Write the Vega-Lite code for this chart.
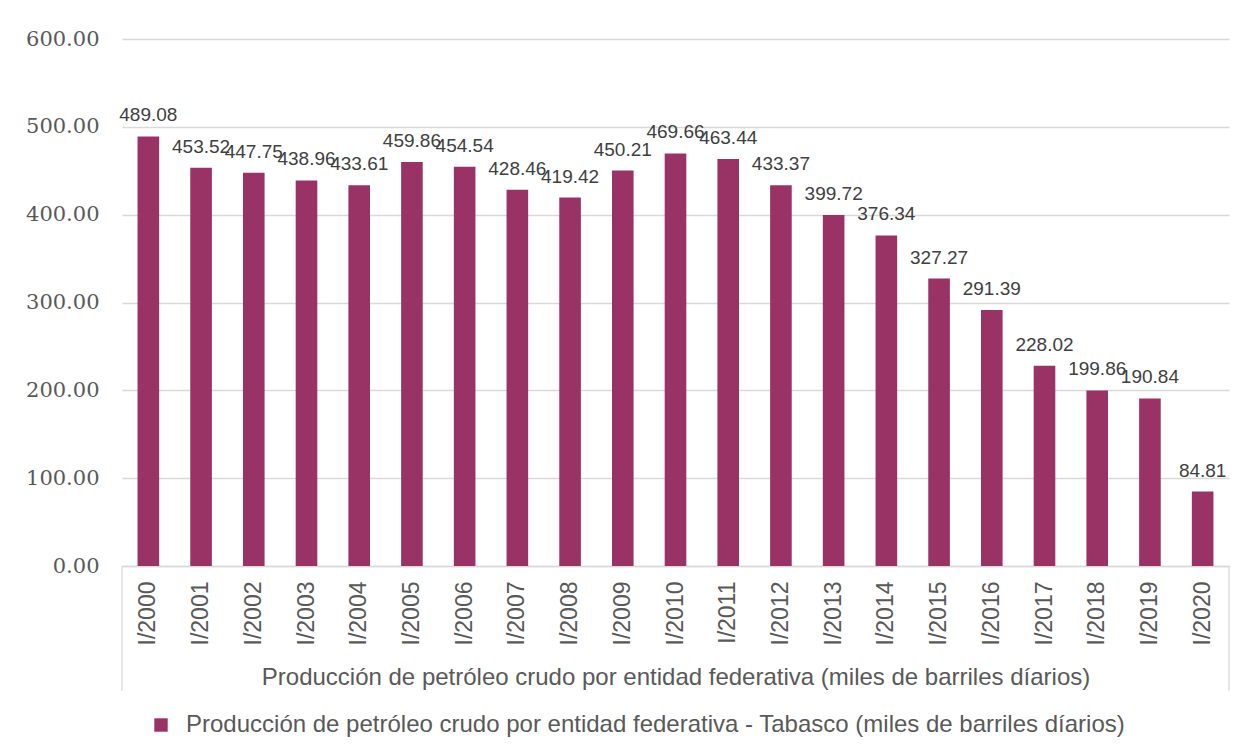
{
  "$schema": "https://vega.github.io/schema/vega-lite/v6.json",
  "width": 1107,
  "height": 527,
  "autosize": {"type": "none"},
  "padding": {"left": 122, "top": 39, "right": 26, "bottom": 190},
  "background": "white",
  "config": {
    "view": {"stroke": null},
    "font": "Liberation Sans"
  },
  "data": {
    "values": [
      {"periodo": "I/2000", "valor": 489.08, "serie": "Producción de petróleo crudo por entidad federativa - Tabasco (miles de barriles díarios)"},
      {"periodo": "I/2001", "valor": 453.52, "serie": "Producción de petróleo crudo por entidad federativa - Tabasco (miles de barriles díarios)"},
      {"periodo": "I/2002", "valor": 447.75, "serie": "Producción de petróleo crudo por entidad federativa - Tabasco (miles de barriles díarios)"},
      {"periodo": "I/2003", "valor": 438.96, "serie": "Producción de petróleo crudo por entidad federativa - Tabasco (miles de barriles díarios)"},
      {"periodo": "I/2004", "valor": 433.61, "serie": "Producción de petróleo crudo por entidad federativa - Tabasco (miles de barriles díarios)"},
      {"periodo": "I/2005", "valor": 459.86, "serie": "Producción de petróleo crudo por entidad federativa - Tabasco (miles de barriles díarios)"},
      {"periodo": "I/2006", "valor": 454.54, "serie": "Producción de petróleo crudo por entidad federativa - Tabasco (miles de barriles díarios)"},
      {"periodo": "I/2007", "valor": 428.46, "serie": "Producción de petróleo crudo por entidad federativa - Tabasco (miles de barriles díarios)"},
      {"periodo": "I/2008", "valor": 419.42, "serie": "Producción de petróleo crudo por entidad federativa - Tabasco (miles de barriles díarios)"},
      {"periodo": "I/2009", "valor": 450.21, "serie": "Producción de petróleo crudo por entidad federativa - Tabasco (miles de barriles díarios)"},
      {"periodo": "I/2010", "valor": 469.66, "serie": "Producción de petróleo crudo por entidad federativa - Tabasco (miles de barriles díarios)"},
      {"periodo": "I/2011", "valor": 463.44, "serie": "Producción de petróleo crudo por entidad federativa - Tabasco (miles de barriles díarios)"},
      {"periodo": "I/2012", "valor": 433.37, "serie": "Producción de petróleo crudo por entidad federativa - Tabasco (miles de barriles díarios)"},
      {"periodo": "I/2013", "valor": 399.72, "serie": "Producción de petróleo crudo por entidad federativa - Tabasco (miles de barriles díarios)"},
      {"periodo": "I/2014", "valor": 376.34, "serie": "Producción de petróleo crudo por entidad federativa - Tabasco (miles de barriles díarios)"},
      {"periodo": "I/2015", "valor": 327.27, "serie": "Producción de petróleo crudo por entidad federativa - Tabasco (miles de barriles díarios)"},
      {"periodo": "I/2016", "valor": 291.39, "serie": "Producción de petróleo crudo por entidad federativa - Tabasco (miles de barriles díarios)"},
      {"periodo": "I/2017", "valor": 228.02, "serie": "Producción de petróleo crudo por entidad federativa - Tabasco (miles de barriles díarios)"},
      {"periodo": "I/2018", "valor": 199.86, "serie": "Producción de petróleo crudo por entidad federativa - Tabasco (miles de barriles díarios)"},
      {"periodo": "I/2019", "valor": 190.84, "serie": "Producción de petróleo crudo por entidad federativa - Tabasco (miles de barriles díarios)"},
      {"periodo": "I/2020", "valor": 84.81, "serie": "Producción de petróleo crudo por entidad federativa - Tabasco (miles de barriles díarios)"}
    ]
  },
  "encoding": {
    "x": {
      "field": "periodo",
      "type": "nominal",
      "sort": null,
      "scale": {"paddingInner": 0.59, "paddingOuter": 0.295},
      "axis": {
        "title": "Producción de petróleo crudo por entidad federativa (miles de barriles díarios)",
        "titleFont": "Liberation Sans",
        "titleFontSize": 24,
        "titleFontWeight": "normal",
        "titleColor": "#595959",
        "titlePadding": 21,
        "labelAngle": -90,
        "labelFont": "Liberation Sans",
        "labelFontSize": 23,
        "labelColor": "#595959",
        "labelPadding": 15,
        "ticks": false,
        "domainColor": "#d9d9d9",
        "domainWidth": 1.3,
        "grid": false
      }
    }
  },
  "layer": [
    {
      "mark": {"type": "bar"},
      "encoding": {
        "y": {
          "field": "valor",
          "type": "quantitative",
          "scale": {"domain": [0, 600], "nice": false},
          "axis": {
            "title": null,
            "values": [0, 100, 200, 300, 400, 500, 600],
            "format": ".2f",
            "labelFont": "DejaVu Serif",
            "labelFontSize": 21,
            "labelColor": "#595959",
            "labelPadding": 23,
            "ticks": false,
            "domain": false,
            "grid": true,
            "gridColor": "#d9d9d9",
            "gridWidth": 1.3
          }
        },
        "color": {
          "field": "serie",
          "type": "nominal",
          "scale": {"range": ["#993366"]},
          "legend": {
            "title": null,
            "orient": "none",
            "legendX": 27,
            "legendY": 674,
            "symbolType": "square",
            "symbolSize": 180,
            "symbolStrokeWidth": 0,
            "labelFont": "Liberation Sans",
            "labelFontSize": 24,
            "labelColor": "#595959",
            "labelOffset": 13,
            "labelLimit": 1200
          }
        }
      }
    },
    {
      "mark": {"type": "text", "baseline": "alphabetic", "dy": -15, "font": "Liberation Sans", "fontSize": 19, "color": "#404040"},
      "encoding": {
        "y": {"field": "valor", "type": "quantitative"},
        "text": {"field": "valor", "type": "quantitative", "format": ".2f"}
      }
    },
    {
      "data": {"values": [{"periodo": "I/2000"}]},
      "mark": {"type": "rule", "color": "#d9d9d9", "strokeWidth": 1.3, "clip": false},
      "encoding": {
        "x": {"field": "periodo", "type": "nominal", "sort": null, "bandPosition": -0.72},
        "y": {"datum": 0},
        "y2": {"datum": -142}
      }
    },
    {
      "data": {"values": [{"periodo": "I/2020"}]},
      "mark": {"type": "rule", "color": "#d9d9d9", "strokeWidth": 1.3, "clip": false},
      "encoding": {
        "x": {"field": "periodo", "type": "nominal", "sort": null, "bandPosition": 1.72},
        "y": {"datum": 0},
        "y2": {"datum": -142}
      }
    }
  ]
}
